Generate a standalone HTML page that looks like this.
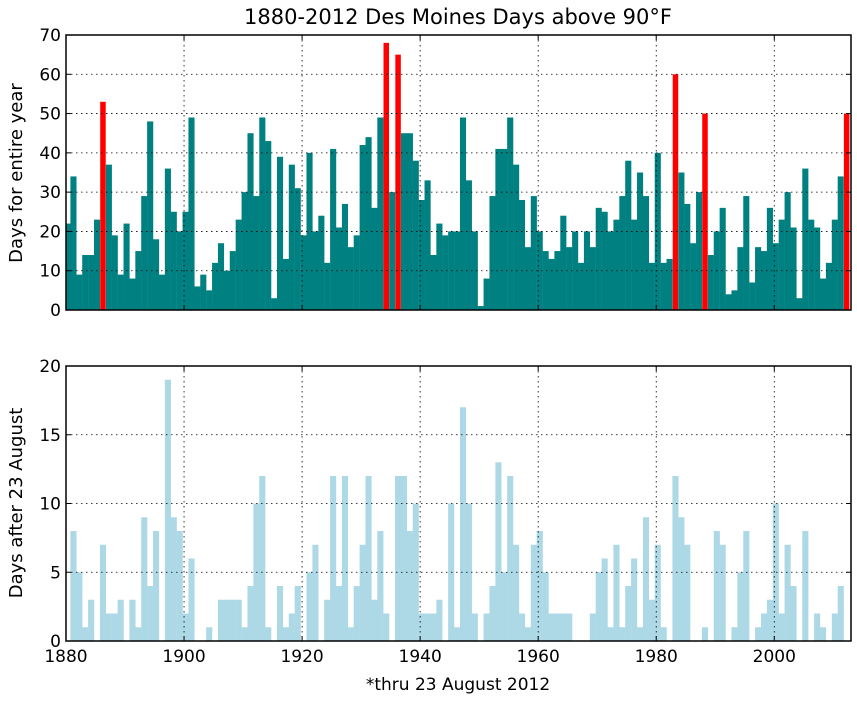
<!DOCTYPE html>
<html><head><meta charset="utf-8"><style>
html,body{margin:0;padding:0;background:#fff;}
svg text{font-family:"DejaVu Sans","Liberation Sans",sans-serif;}
</style></head><body>
<svg id="s" width="857" height="700" xmlns="http://www.w3.org/2000/svg">
<text x="458" y="24" font-size="21" text-anchor="middle">1880-2012 Des Moines Days above 90°F</text>
<text transform="translate(22,173) rotate(-90)" font-size="18" text-anchor="middle">Days for entire year</text>
<text transform="translate(22,503) rotate(-90)" font-size="18" text-anchor="middle">Days after 23 August</text>
<text x="458" y="690" font-size="17" text-anchor="middle">*thru 23 August 2012</text>
</svg>
<script>
(function(){
var topData=[22,34,9,14,14,23,53,37,19,9, 22,8,15,29,48,18,9,36,25,20, 25,49,6,9,5,12,17,10,15,23, 30,45,29,49,43,3,39,13,37,31, 19,40,20,24,12,41,21,27,16,19, 42,44,26,49,68,30,65,45,45,38, 28,33,14,22,19,20,20,49,33,20, 1,8,29,41,41,49,37,28,16,29, 20,15,13,15,24,16,20,12,20,16, 26,25,20,23,29,38,23,35,29,12, 40,12,13,60,35,27,17,30,50,14, 20,26,4,5,16,29,7,16,15,26, 17,23,30,21,3,36,23,21,8,12, 23,34,50];
var bot=[0,8,5,1,3,0,7,2,2,3, 0,3,1,9,4,8,0,19,9,8, 2,6,0,0,1,0,3,3,3,3, 1,4,10,12,1,0,4,1,2,4, 0,5,7,0,3,12,4,12,1,4, 7,12,3,8,2,0,12,12,8,10, 2,2,2,3,0,10,1,17,10,2, 0,2,4,13,5,12,7,2,1,7, 8,5,2,2,2,2,0,0,0,2, 5,6,1,7,1,4,6,1,9,3, 7,1,0,12,9,7,0,0,1,0, 8,7,0,1,5,8,0,1,2,3, 10,2,7,4,0,8,0,2,1,0, 2,4,0];
var red={1886:1,1934:1,1936:1,1983:1,1988:1,2012:1};
var L=66,R=851,W=R-L,k=W/133;
function X(y){return L+(y-1880)*k;}
function BX(y){return Math.max(L,X(y)-1.5);}
var s='';
function panel(T,B,max,step,data,col,isTop){
  var h=B-T;
  function Y(v){return B-v*h/max;}
  for(var i=0;i<data.length;i++){
    var yr=1880+i,v=data[i];
    if(isTop&&red[yr]){
      s+='<rect x="'+(BX(yr)+0.3)+'" y="'+Y(v)+'" width="'+(k-0.4)+'" height="'+(v*h/max)+'" fill="#ff0000"/>';
    } else if(v>0){
      s+='<rect x="'+BX(yr)+'" y="'+Y(v)+'" width="'+(k+0.2)+'" height="'+(v*h/max)+'" fill="'+col+'"/>';
    }
  }
  for(var v=step;v<max;v+=step){
    s+='<line x1="'+L+'" x2="'+R+'" y1="'+Y(v)+'" y2="'+Y(v)+'" stroke="#000" stroke-width="0.8" stroke-dasharray="1.5,3.5"/>';
  }
  for(var yr=1900;yr<=2000;yr+=20){
    s+='<line x1="'+X(yr)+'" x2="'+X(yr)+'" y1="'+T+'" y2="'+B+'" stroke="#000" stroke-width="0.8" stroke-dasharray="1.5,3.5"/>';
  }
  for(var v=0;v<=max;v+=step){
    s+='<line x1="'+L+'" x2="'+(L+5)+'" y1="'+Y(v)+'" y2="'+Y(v)+'" stroke="#000"/>';
    s+='<line x1="'+(R-5)+'" x2="'+R+'" y1="'+Y(v)+'" y2="'+Y(v)+'" stroke="#000"/>';
    s+='<text x="'+(L-5)+'" y="'+(Y(v)+6)+'" font-size="17" text-anchor="end">'+v+'</text>';
  }
  for(var yr=1880;yr<=2000;yr+=20){
    s+='<line x1="'+X(yr)+'" x2="'+X(yr)+'" y1="'+B+'" y2="'+(B-5)+'" stroke="#000"/>';
    s+='<line x1="'+X(yr)+'" x2="'+X(yr)+'" y1="'+T+'" y2="'+(T+5)+'" stroke="#000"/>';
    if(!isTop) s+='<text x="'+X(yr)+'" y="'+(B+21)+'" font-size="17" text-anchor="middle">'+yr+'</text>';
  }
  s+='<rect x="'+L+'" y="'+T+'" width="'+W+'" height="'+h+'" fill="none" stroke="#000" stroke-width="1.5"/>';
}
panel(35,310,70,10,topData,'#008080',true);
panel(366,641,20,5,bot,'#add8e6',false);
document.getElementById('s').insertAdjacentHTML('beforeend',s);
})();
</script>
</body></html>
